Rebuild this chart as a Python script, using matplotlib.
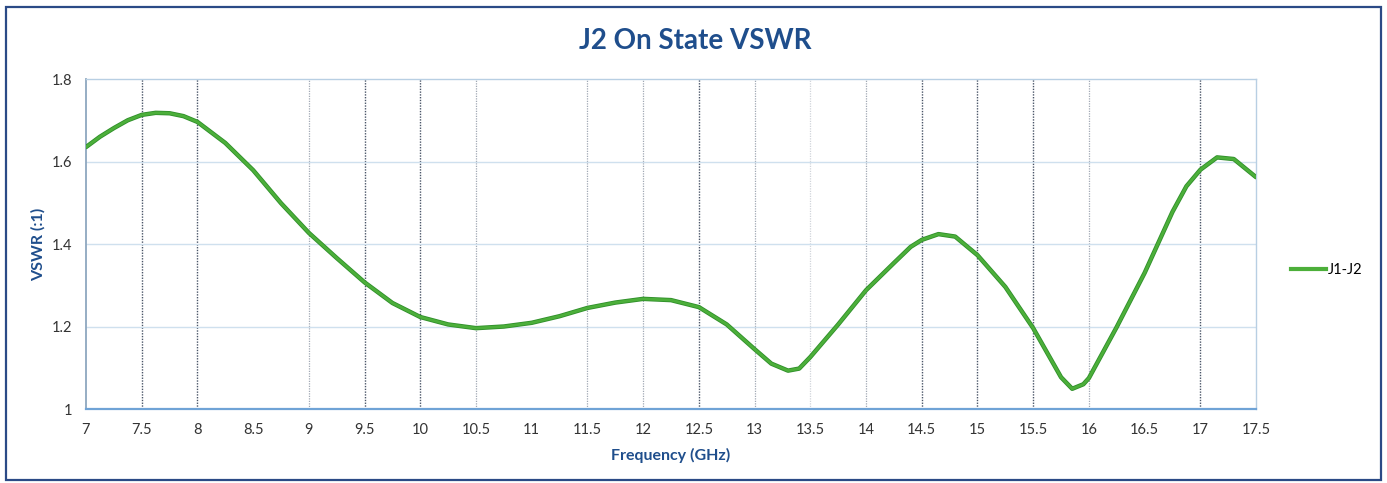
import numpy as np
import matplotlib
matplotlib.use("Agg")
from matplotlib import pyplot as plt
from matplotlib.patches import Rectangle

# values
freq = [7.0, 7.125, 7.25, 7.375, 7.5, 7.625, 7.75, 7.875, 8.0, 8.25, 8.5, 8.75,
        9.0, 9.25, 9.5, 9.75, 10.0, 10.25, 10.5, 10.75, 11.0, 11.25, 11.5,
        11.75, 12.0, 12.25, 12.5, 12.75, 13.0, 13.15, 13.3, 13.4, 13.5, 13.75,
        14.0, 14.25, 14.4, 14.5, 14.65, 14.8, 15.0, 15.25, 15.5, 15.75, 15.85,
        15.95, 16.0, 16.25, 16.5, 16.75, 16.875, 17.0, 17.15, 17.3, 17.5]
vswr = [1.635, 1.660, 1.681, 1.700, 1.713, 1.718, 1.717, 1.710, 1.696, 1.645,
        1.579, 1.499, 1.427, 1.366, 1.307, 1.257, 1.223, 1.205, 1.196, 1.200,
        1.209, 1.225, 1.245, 1.258, 1.267, 1.264, 1.247, 1.205, 1.145, 1.110,
        1.093, 1.098, 1.126, 1.205, 1.288, 1.354, 1.393, 1.410, 1.424, 1.418,
        1.373, 1.296, 1.196, 1.077, 1.049, 1.060, 1.075, 1.199, 1.330, 1.478,
        1.540, 1.580, 1.610, 1.606, 1.562]

title = "J2 On State VSWR"
xlabel = "Frequency (GHz)"
ylabel = "VSWR (:1)"
series_name = "J1-J2"

blue = "#1f4e8c"
font = "Lato"

fig = plt.figure(figsize=(13.87, 4.83), dpi=100)
ax = fig.add_axes([0.062, 0.1532, 0.8436, 0.6832])

# vertical dotted grid, uneven like the scan
for v in [7.5, 8, 9.5, 10, 12.5, 14.5, 15, 15.5, 17]:
    ax.axvline(v, color="#4a5568", lw=1.0, ls=(0, (1, 1)), zorder=1)
for v in [9, 10.5, 11.5, 12, 13, 14, 16]:
    ax.axvline(v, color="#a0a8b4", lw=0.9, ls=(0, (1, 1)), zorder=1)
ax.axvline(13.5, color="#d0d4da", lw=0.9, ls=(0, (1, 1)), zorder=1)
for h in [1.2, 1.4, 1.6]:
    ax.axhline(h, color="#cfe0ee", lw=1.0, zorder=1)

ax.plot(freq, vswr, color="#2f8f2a", lw=3.2, zorder=3, solid_capstyle="round",
        solid_joinstyle="round")
line, = ax.plot(freq, vswr, color="#4caf3a", lw=2.0, zorder=4, label=series_name,
                solid_joinstyle="round")

ax.set_xlim(7, 17.5)
ax.set_ylim(1.0, 1.8)
ax.set_xticks(np.arange(7, 17.51, 0.5))
ax.set_xticklabels([("%g" % t) for t in np.arange(7, 17.51, 0.5)])
ax.set_yticks([1.0, 1.2, 1.4, 1.6, 1.8])
ax.set_yticklabels(["1", "1.2", "1.4", "1.6", "1.8"])
ax.tick_params(length=0, labelsize=10.5, colors="#333333", pad=10)
for lab in ax.get_xticklabels() + ax.get_yticklabels():
    lab.set_fontfamily(font)

for s in ["top", "right"]:
    ax.spines[s].set_color("#b8cfe3")
    ax.spines[s].set_linewidth(1.0)
ax.spines["left"].set_color("#8ea7bf")
ax.spines["bottom"].set_color("#6fa3d6")
ax.spines["left"].set_linewidth(1.3)
ax.spines["bottom"].set_linewidth(1.6)

ax.set_xlabel(xlabel, fontsize=11.5, fontweight="bold", color=blue,
              family=font, labelpad=8)
ax.set_ylabel(ylabel, fontsize=11.5, fontweight="bold", color=blue,
              family=font, labelpad=4)
fig.text(0.501, 0.915, title, ha="center", va="center", fontsize=20,
         fontweight="bold", color=blue, family=font)

leg = ax.legend(handles=[line], loc="center left", bbox_to_anchor=(1.025, 0.42),
                borderaxespad=0, frameon=False, handlelength=2.4,
                handletextpad=0.1, prop={"family": font, "size": 10.5})
leg.get_lines()[0].set_linewidth(3)

# outer chart frame
fig.patches.append(Rectangle((0.004, 0.006), 0.992, 0.98, transform=fig.transFigure,
                             fill=False, edgecolor="#2b4a86", lw=1.6))

fig.savefig("out.png", dpi=100)
